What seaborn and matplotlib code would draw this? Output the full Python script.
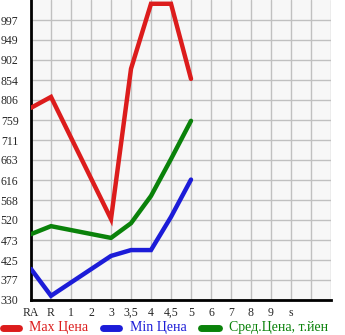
import matplotlib
matplotlib.use("Agg")
import matplotlib.pyplot as plt
import seaborn as sns
import pandas as pd
import numpy as np
from matplotlib.lines import Line2D

tick_labels = ["RA", "R", "1", "2", "3", "3,5", "4", "4,5", "5", "6", "7", "8", "9", "s", "", ""]
data_cats = ["RA", "R", "3", "3,5", "4", "4,5", "5"]
max_price = [788, 814, 523, 881, 1036, 1036, 857]
min_price = [404, 340, 435, 449, 449, 528, 617]
avg_price = [487, 506, 478, 513, 578, 666, 757]
y_ticks = [330, 377.67, 425.33, 473, 520.67, 568.33, 616, 663.67, 711.33, 759, 806.67, 854.33, 902, 949.67, 997.33]
y_labels = ["330", "377", "425", "473", "520", "568", "616", "663", "711", "759", "806", "854", "902", "949", "997"]
series_names = ["Max Цена", "Min Цена", "Сред.Цена, т.йен"]
colors = ["#dc1c1c", "#1c1cd8", "#0a820a"]

sns.set_style("white")
plt.rcParams['font.family'] = ['Liberation Serif', 'DejaVu Serif']

W, H = 345, 335
pos = [tick_labels.index(c) for c in data_cats]
df = pd.DataFrame({"x": pos * 3,
                   "y": max_price + min_price + avg_price,
                   "s": [series_names[0]] * 7 + [series_names[1]] * 7 + [series_names[2]] * 7})

fig = plt.figure(figsize=(W / 100, H / 100), dpi=100)
ax = fig.add_axes([31 / W, 35 / H, 300 / W, 300 / H])
ax.set_facecolor("#f7f7f7")

for name, col in zip(series_names, colors):
    sub = df[df["s"] == name]
    sns.lineplot(data=sub, x="x", y="y", ax=ax, color=col, linewidth=3.2,
                 solid_capstyle="round", solid_joinstyle="miter", legend=False, zorder=3)

ax.set_xlim(0, 15)
ax.set_ylim(330, 1045)
ax.set_xticks(range(16))
ax.set_xticklabels(tick_labels)
ax.set_yticks(y_ticks)
ax.set_yticklabels(y_labels)
ax.set_xlabel("")
ax.set_ylabel("")
ax.grid(True, color="#c0c0c0", linewidth=1)
ax.set_axisbelow(True)
for s in ["top", "right"]:
    ax.spines[s].set_visible(False)
for s in ["left", "bottom"]:
    ax.spines[s].set_color("black")
    ax.spines[s].set_linewidth(2)
ax.tick_params(axis="x", length=3, width=1, color="black", labelsize=8.5, pad=2)
ax.tick_params(axis="y", length=7, width=1, color="black", labelsize=8.5, pad=2)

# legend drawn at the bottom of the figure
leg_y = 1 - 328 / H
items = [(0, 22, 29), (100, 122, 130), (198, 222, 229)]
for (x0, x1, xt), name, col in zip(items, series_names, colors):
    fig.add_artist(Line2D([(x0 + 3) / W, (x1 - 3) / W], [leg_y, leg_y], color=col,
                          linewidth=5, solid_capstyle="round", transform=fig.transFigure))
    fig.text(xt / W, leg_y, name, color=col, fontsize=10, va="center", ha="left")

fig.savefig("out.png", dpi=100)
